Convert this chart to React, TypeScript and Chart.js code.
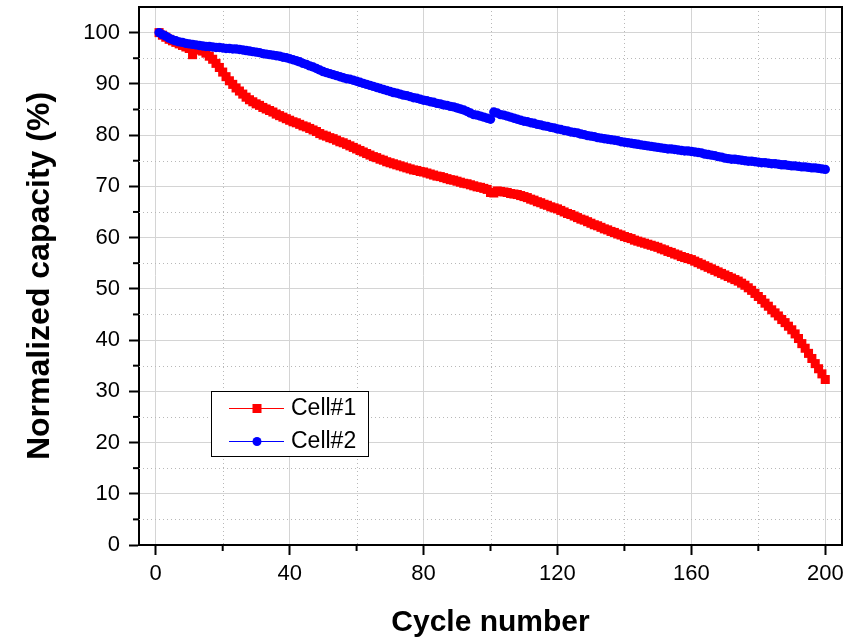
import React, { useEffect, useRef } from "react";
import { Chart, registerables } from "chart.js";

Chart.register(...registerables);

const cycles: number[] = Array.from({ length: 200 }, (_, i) => i + 1);

const cell1: number[] = [
  100.0, 99.5, 99.1, 98.7, 98.4, 98.1, 97.8, 97.5, 97.2, 96.9,
  95.7, 96.7, 96.6, 96.4, 96.0, 95.4, 94.8, 94.0, 93.2, 92.3,
  91.4, 90.6, 89.9, 89.2, 88.6, 88.0, 87.4, 86.9, 86.5, 86.1,
  85.8, 85.4, 85.1, 84.8, 84.5, 84.1, 83.8, 83.5, 83.2, 82.9,
  82.6, 82.4, 82.1, 81.8, 81.6, 81.3, 81.0, 80.7, 80.3, 80.0,
  79.8, 79.5, 79.3, 79.0, 78.7, 78.5, 78.2, 77.9, 77.6, 77.3,
  77.0, 76.7, 76.4, 76.1, 75.8, 75.6, 75.3, 75.1, 74.8, 74.6,
  74.4, 74.2, 74.0, 73.8, 73.6, 73.4, 73.2, 73.1, 72.9, 72.8,
  72.6, 72.4, 72.2, 72.0, 71.9, 71.7, 71.5, 71.3, 71.2, 71.0,
  70.8, 70.6, 70.5, 70.3, 70.1, 69.9, 69.8, 69.6, 69.4, 68.8,
  68.7, 69.1, 69.0, 68.9, 68.8, 68.6, 68.5, 68.4, 68.2, 68.0,
  67.8, 67.5, 67.3, 67.0, 66.8, 66.5, 66.3, 66.0, 65.8, 65.6,
  65.3, 65.0, 64.7, 64.5, 64.2, 63.9, 63.6, 63.4, 63.1, 62.8,
  62.5, 62.3, 62.0, 61.7, 61.5, 61.2, 61.0, 60.7, 60.5, 60.2,
  60.0, 59.8, 59.5, 59.3, 59.1, 58.9, 58.7, 58.5, 58.3, 58.1,
  57.8, 57.6, 57.3, 57.1, 56.8, 56.6, 56.3, 56.1, 55.9, 55.7,
  55.4, 55.1, 54.8, 54.5, 54.2, 53.9, 53.6, 53.3, 53.0, 52.7,
  52.4, 52.1, 51.8, 51.5, 51.1, 50.7, 50.2, 49.7, 49.1, 48.5,
  47.9, 47.2, 46.6, 45.9, 45.3, 44.7, 44.0, 43.4, 42.7, 42.0,
  41.2, 40.3, 39.3, 38.4, 37.4, 36.4, 35.4, 34.4, 33.4, 32.3,
];

const cell2: number[] = [
  100.0, 99.6, 99.3, 98.9, 98.6, 98.4, 98.2, 98.1, 97.9, 97.8,
  97.7, 97.6, 97.5, 97.4, 97.3, 97.3, 97.2, 97.1, 97.1, 97.0,
  96.9, 96.9, 96.8, 96.8, 96.7, 96.6, 96.5, 96.4, 96.3, 96.2,
  96.1, 95.9, 95.8, 95.7, 95.6, 95.5, 95.4, 95.2, 95.1, 94.9,
  94.7, 94.5, 94.3, 94.0, 93.8, 93.5, 93.3, 93.0, 92.7, 92.4,
  92.2, 92.0, 91.8, 91.6, 91.4, 91.2, 91.0, 90.9, 90.7, 90.5,
  90.3, 90.1, 89.9, 89.7, 89.5, 89.3, 89.1, 88.9, 88.7, 88.5,
  88.3, 88.2, 88.0, 87.8, 87.7, 87.5, 87.3, 87.2, 87.0, 86.8,
  86.7, 86.5, 86.4, 86.2, 86.1, 85.9, 85.8, 85.6, 85.5, 85.3,
  85.1, 84.9, 84.6, 84.3, 84.0, 83.9, 83.7, 83.5, 83.3, 83.1,
  84.5, 84.3, 84.0, 83.9, 83.7, 83.5, 83.3, 83.1, 82.9, 82.7,
  82.6, 82.4, 82.3, 82.1, 82.0, 81.8, 81.7, 81.5, 81.4, 81.2,
  81.1, 80.9, 80.8, 80.6, 80.5, 80.4, 80.2, 80.1, 79.9, 79.8,
  79.7, 79.5, 79.4, 79.3, 79.2, 79.1, 79.0, 78.9, 78.7, 78.6,
  78.5, 78.4, 78.3, 78.2, 78.1, 78.0, 77.9, 77.8, 77.7, 77.6,
  77.5, 77.4, 77.3, 77.3, 77.2, 77.1, 77.0, 76.9, 76.9, 76.8,
  76.7, 76.6, 76.5, 76.3, 76.2, 76.1, 76.0, 75.8, 75.7, 75.5,
  75.4, 75.3, 75.3, 75.2, 75.1, 75.0, 74.9, 74.9, 74.8, 74.7,
  74.6, 74.6, 74.5, 74.4, 74.4, 74.3, 74.2, 74.2, 74.1, 74.0,
  74.0, 73.9, 73.8, 73.8, 73.7, 73.6, 73.6, 73.5, 73.4, 73.3,
];

const seriesNames = ["Cell#1", "Cell#2"];
const seriesColors = ["#ff0000", "#0000ff"];
const xTickValues = [0, 40, 80, 120, 160, 200];
const yTickValues = [0, 10, 20, 30, 40, 50, 60, 70, 80, 90, 100];
const xMinorValues = [20, 60, 100, 140, 180];
const yMinorValues = [5, 15, 25, 35, 45, 55, 65, 75, 85, 95];
const xTitle = "Cycle number";
const yTitle = "Normalized capacity (%)";

const FONT = '"Liberation Sans", Arial, sans-serif';

const decorPlugin = {
  id: "decor",
  beforeDatasetsDraw(chart: any) {
    const { ctx, chartArea: a, scales } = chart;
    const x = scales.x;
    const y = scales.y;
    ctx.save();
    ctx.strokeStyle = "#b8b8b8";
    ctx.lineWidth = 1;
    ctx.setLineDash([1, 3]);
    xMinorValues.forEach((v) => {
      const px = Math.round(x.getPixelForValue(v)) + 0.5;
      ctx.beginPath();
      ctx.moveTo(px, a.top);
      ctx.lineTo(px, a.bottom);
      ctx.stroke();
    });
    yMinorValues.forEach((v) => {
      const py = Math.round(y.getPixelForValue(v)) + 0.5;
      ctx.beginPath();
      ctx.moveTo(a.left, py);
      ctx.lineTo(a.right, py);
      ctx.stroke();
    });
    ctx.restore();
  },
  afterDraw(chart: any) {
    const { ctx, chartArea: a, scales } = chart;
    const x = scales.x;
    const y = scales.y;
    ctx.save();
    ctx.strokeStyle = "#000";
    ctx.lineWidth = 2;
    ctx.beginPath();
    ctx.moveTo(a.left, a.top);
    ctx.lineTo(a.right, a.top);
    ctx.lineTo(a.right, a.bottom);
    ctx.stroke();
    xMinorValues.forEach((v) => {
      const px = x.getPixelForValue(v);
      ctx.beginPath();
      ctx.moveTo(px, a.bottom);
      ctx.lineTo(px, a.bottom + 6);
      ctx.stroke();
    });
    yMinorValues.forEach((v) => {
      const py = y.getPixelForValue(v);
      ctx.beginPath();
      ctx.moveTo(a.left, py);
      ctx.lineTo(a.left - 6, py);
      ctx.stroke();
    });
    const bx = 211, by = 391, bw = 157, bh = 65;
    ctx.fillStyle = "#fff";
    ctx.fillRect(bx, by, bw, bh);
    ctx.lineWidth = 1;
    ctx.strokeStyle = "#000";
    ctx.strokeRect(bx + 0.5, by + 0.5, bw, bh);
    seriesNames.forEach((name, i) => {
      const ry = by + 17 + i * 33;
      const col = seriesColors[i];
      ctx.strokeStyle = col;
      ctx.lineWidth = 1;
      ctx.beginPath();
      ctx.moveTo(bx + 18, ry + 0.5);
      ctx.lineTo(bx + 73, ry + 0.5);
      ctx.stroke();
      ctx.fillStyle = col;
      const mx = bx + 46;
      if (i === 0) {
        ctx.fillRect(mx - 4.5, ry - 4, 9, 9);
      } else {
        ctx.beginPath();
        ctx.arc(mx, ry + 0.5, 4.5, 0, Math.PI * 2);
        ctx.fill();
      }
      ctx.fillStyle = "#000";
      ctx.font = `23px ${FONT}`;
      ctx.textBaseline = "middle";
      ctx.textAlign = "left";
      ctx.fillText(name, bx + 80, ry + 1);
    });
    ctx.restore();
  },
};

export default function App() {
  const ref = useRef<HTMLCanvasElement | null>(null);
  useEffect(() => {
    if (!ref.current) return;
    const chart = new Chart(ref.current, {
      type: "line",
      data: {
        datasets: [
          {
            label: seriesNames[0],
            data: cycles.map((c, i) => ({ x: c, y: cell1[i] })),
            borderColor: seriesColors[0],
            backgroundColor: seriesColors[0],
            borderWidth: 1,
            pointStyle: "rect",
            pointRadius: 6.4,
            pointBorderWidth: 0,
            order: 1,
          },
          {
            label: seriesNames[1],
            data: cycles.map((c, i) => ({ x: c, y: cell2[i] })),
            borderColor: seriesColors[1],
            backgroundColor: seriesColors[1],
            borderWidth: 1,
            pointStyle: "circle",
            pointRadius: 4.7,
            pointBorderWidth: 0,
            order: 0,
          },
        ],
      },
      options: {
        responsive: false,
        animation: false,
        layout: { padding: { left: 0, right: 13, top: 7, bottom: 0 } },
        plugins: { legend: { display: false }, tooltip: { enabled: false } },
        scales: {
          x: {
            type: "linear",
            min: -5,
            max: 205,
            afterBuildTicks: (s: any) => {
              s.ticks = xTickValues.map((v) => ({ value: v }));
            },
            afterFit: (s: any) => {
              s.height = 96;
              s.paddingLeft = 0;
              s.paddingRight = 0;
            },
            grid: {
              color: "#d4d4d4",
              lineWidth: 1,
              tickColor: "#000",
              tickWidth: 2,
              tickLength: 10,
            },
            border: { display: true, color: "#000", width: 2 },
            ticks: {
              color: "#000",
              font: { family: FONT, size: 22 },
              padding: 6,
              maxRotation: 0,
              autoSkip: false,
            },
            title: {
              display: true,
              text: xTitle,
              color: "#000",
              font: { family: FONT, size: 30, weight: "bold", lineHeight: 1.2 },
              padding: { top: 0, bottom: 0 },
            },
          },
          y: {
            type: "linear",
            min: 0,
            max: 105,
            afterBuildTicks: (s: any) => {
              s.ticks = yTickValues.map((v) => ({ value: v }));
            },
            afterFit: (s: any) => {
              s.width = 139;
              s.paddingTop = 0;
              s.paddingBottom = 0;
            },
            grid: {
              color: "#d4d4d4",
              lineWidth: 1,
              tickColor: "#000",
              tickWidth: 2,
              tickLength: 10,
            },
            border: { display: true, color: "#000", width: 2 },
            ticks: {
              color: "#000",
              font: { family: FONT, size: 22 },
              padding: 9,
              autoSkip: false,
            },
            title: {
              display: true,
              text: yTitle,
              color: "#000",
              font: { family: FONT, size: 32, weight: "bold", lineHeight: 1.2 },
              padding: { top: 21, bottom: 0 },
            },
          },
        },
      },
      plugins: [decorPlugin],
    });
    return () => chart.destroy();
  }, []);
  return (
    <div style={{ position: "fixed", left: 0, top: 0, width: 855, height: 641, background: "#fff" }}>
      <canvas ref={ref} width={855} height={641} />
    </div>
  );
}
